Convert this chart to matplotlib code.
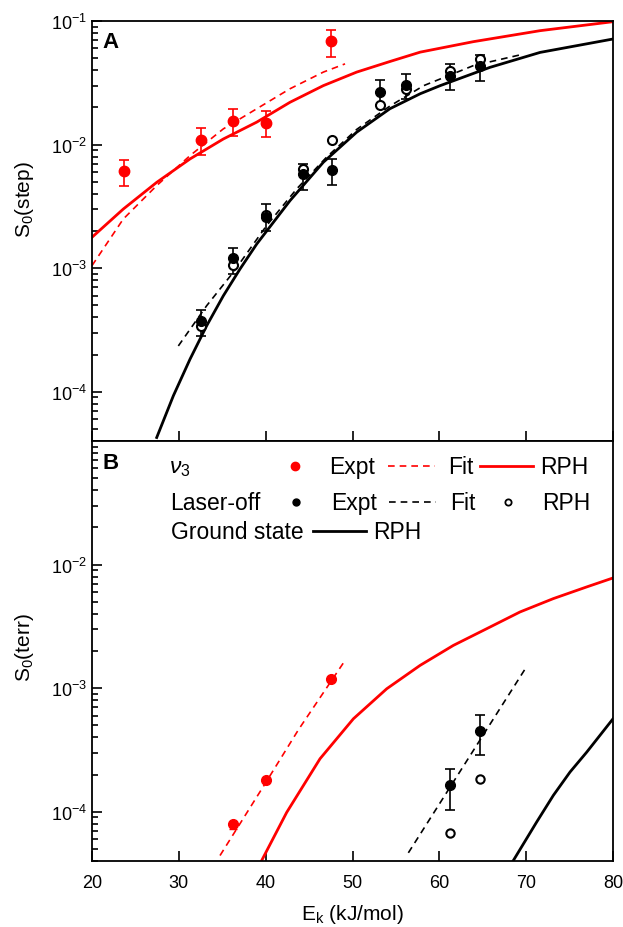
import numpy as np
import matplotlib
matplotlib.use("Agg")
import matplotlib.pyplot as plt
from matplotlib.ticker import LogLocator, NullFormatter

plt.rcParams['font.family'] = ['Liberation Sans', 'DejaVu Sans']
plt.rcParams['mathtext.fontset'] = 'custom'
plt.rcParams['mathtext.rm'] = 'Liberation Sans'
plt.rcParams['mathtext.it'] = 'Liberation Sans:italic'
plt.rcParams['mathtext.bf'] = 'Liberation Sans:bold'

# ---------------- Panel A : S0(step) ----------------
# nu3 experiment (red)
a_red_E = [23.7, 32.55, 36.2, 40.0, 47.57]
a_red_S = [6.1e-3, 1.09e-2, 1.55e-2, 1.50e-2, 6.84e-2]
a_red_lo = [4.6e-3, 8.26e-3, 1.18e-2, 1.15e-2, 5.14e-2]
a_red_hi = [7.5e-3, 1.35e-2, 1.93e-2, 1.87e-2, 8.4e-2]

# nu3 fit (red dashed)
a_redfit_E = [20.0, 23.6, 27.45, 31.29, 35.12, 38.97, 42.8, 46.64, 49.14]
a_redfit_S = [1.05e-3, 2.5e-3, 4.66e-3, 8.15e-3, 1.34e-2, 1.95e-2, 2.83e-2, 3.86e-2, 4.5e-2]

# nu3 RPH (red solid)
a_redrph_E = [20.0, 23.6, 27.45, 31.29, 35.12, 38.97, 42.8, 46.64, 50.48, 54.3,
              57.8, 63.9, 71.6, 80.0]
a_redrph_S = [1.78e-3, 3.01e-3, 4.95e-3, 7.66e-3, 1.11e-2, 1.52e-2, 2.2e-2, 3.0e-2,
              3.86e-2, 4.7e-2, 5.6e-2, 6.8e-2, 8.35e-2, 0.0987]

# laser-off experiment (black filled)
a_off_E = [32.55, 36.2, 40.0, 44.3, 47.6, 53.2, 56.2, 61.2, 64.7]
a_off_S = [3.74e-4, 1.2e-3, 2.6e-3, 5.8e-3, 6.28e-3, 2.68e-2, 3.04e-2, 3.6e-2, 4.35e-2]
a_off_lo = [2.83e-4, 8.9e-4, 2.0e-3, 4.3e-3, 4.7e-3, 2.1e-2, 2.34e-2, 2.78e-2, 3.27e-2]
a_off_hi = [4.57e-4, 1.47e-3, 3.3e-3, 7.0e-3, 7.7e-3, 3.34e-2, 3.73e-2, 4.49e-2, 5.31e-2]

# laser-off RPH (open circles)
a_offrph_E = [32.55, 36.2, 40.0, 44.3, 47.6, 53.2, 56.2, 61.2, 64.7]
a_offrph_S = [3.41e-4, 1.06e-3, 2.69e-3, 6.35e-3, 1.09e-2, 2.09e-2, 2.82e-2, 3.96e-2, 4.92e-2]

# laser-off fit (black dashed)
a_offfit_E = [29.94, 33.2, 36.27, 40.1, 43.57, 47.0, 50.5, 54.3, 58.2, 63.9, 69.7]
a_offfit_S = [2.35e-4, 4.97e-4, 9.27e-4, 2.21e-3, 4.38e-3, 7.9e-3, 1.33e-2, 2.05e-2,
              3.0e-2, 4.35e-2, 5.4e-2]

# ground state RPH (black solid)
a_gs_E = [27.45, 29.37, 31.29, 33.2, 35.12, 37.05, 38.97, 42.8, 46.64, 50.48, 54.3,
          57.8, 60.1, 65.8, 71.6, 80.0]
a_gs_S = [4.27e-5, 9.3e-5, 1.84e-4, 3.42e-4, 5.98e-4, 9.87e-4, 1.57e-3, 3.52e-3,
          7.2e-3, 1.26e-2, 1.95e-2, 2.58e-2, 3.0e-2, 4.21e-2, 5.57e-2, 7.15e-2]

# ---------------- Panel B : S0(terr) ----------------
b_red_E = [36.2, 40.0, 47.52]
b_red_S = [7.9e-5, 1.82e-4, 1.19e-3]
b_red_lo = [7.2e-5, 1.75e-4, 1.15e-3]
b_red_hi = [8.3e-5, 1.88e-4, 1.23e-3]

b_redfit_E = [34.74, 40.0, 43.76, 49.02]
b_redfit_S = [4.43e-5, 1.72e-4, 4.6e-4, 1.63e-3]

b_redrph_E = [39.54, 42.42, 46.26, 50.1, 53.94, 57.78, 61.61, 65.45, 69.29, 73.13,
              76.97, 80.0]
b_redrph_S = [4.04e-5, 9.9e-5, 2.69e-4, 5.66e-4, 9.9e-4, 1.53e-3, 2.22e-3, 3.03e-3,
              4.14e-3, 5.31e-3, 6.6e-3, 7.8e-3]

b_off_E = [61.23, 64.72]
b_off_S = [1.66e-4, 4.5e-4]
b_off_lo = [1.04e-4, 2.86e-4]
b_off_hi = [2.23e-4, 6.1e-4]

b_offrph_E = [61.23, 64.72]
b_offrph_S = [6.8e-5, 1.85e-4]

b_offfit_E = [56.43, 70.06]
b_offfit_S = [4.66e-5, 1.5e-3]

b_gs_E = [68.52, 71.2, 73.13, 75.05, 76.97, 80.0]
b_gs_S = [4.04e-5, 8.26e-5, 1.36e-4, 2.1e-4, 3.04e-4, 5.66e-4]

x_ticks = [20, 30, 40, 50, 60, 70, 80]

RED = '#ff0000'


def yerr(s, lo, hi):
    s = np.array(s)
    return [s - np.array(lo), np.array(hi) - s]


def style_axis(ax):
    ax.set_yscale('log')
    ax.set_xlim(20, 80)
    ax.set_ylim(4e-5, 0.1)
    ax.set_xticks(x_ticks)
    ax.yaxis.set_major_locator(LogLocator(base=10, numticks=10))
    ax.yaxis.set_minor_locator(LogLocator(base=10, subs=np.arange(2, 10), numticks=20))
    ax.yaxis.set_minor_formatter(NullFormatter())
    ax.tick_params(which='both', direction='in', top=False, right=False,
                   labelsize=13, width=1.2)
    ax.tick_params(which='major', length=7)
    ax.tick_params(which='minor', length=4)
    ax.tick_params(axis='x', pad=9)
    for sp in ax.spines.values():
        sp.set_linewidth(1.3)


fig = plt.figure(figsize=(6.23, 9.28), dpi=100)
axA = fig.add_axes([0.1477, 0.5237, 0.8363, 0.4526])
axB = fig.add_axes([0.1477, 0.0711, 0.8363, 0.4526], sharex=axA)

# ---- panel A
axA.plot(a_redfit_E, a_redfit_S, color=RED, lw=1.2, ls=(0, (4, 3)))
axA.plot(a_redrph_E, a_redrph_S, color=RED, lw=2.0)
axA.plot(a_offfit_E, a_offfit_S, color='black', lw=1.2, ls=(0, (4, 3)))
axA.plot(a_gs_E, a_gs_S, color='black', lw=2.0)
axA.errorbar(a_red_E, a_red_S, yerr=yerr(a_red_S, a_red_lo, a_red_hi), fmt='o',
             color=RED, ms=7.5, capsize=3.5, elinewidth=1.2, capthick=1.2)
axA.errorbar(a_off_E, a_off_S, yerr=yerr(a_off_S, a_off_lo, a_off_hi), fmt='o',
             color='black', ms=7, capsize=3.5, elinewidth=1.2, capthick=1.2)
axA.plot(a_offrph_E, a_offrph_S, 'o', ms=6.5, mfc='white', mec='black', mew=1.5)
style_axis(axA)
axA.tick_params(labelbottom=False)
axA.set_ylabel('S$_0$(step)', fontsize=15)
axA.yaxis.set_label_coords(-0.107, 0.576)
axA.text(0.02, 0.975, 'A', transform=axA.transAxes, fontsize=16,
         fontweight='bold', va='top', ha='left')

# ---- panel B
axB.plot(b_redfit_E, b_redfit_S, color=RED, lw=1.2, ls=(0, (4, 3)))
axB.plot(b_redrph_E, b_redrph_S, color=RED, lw=2.0)
axB.plot(b_offfit_E, b_offfit_S, color='black', lw=1.2, ls=(0, (4, 3)))
axB.plot(b_gs_E, b_gs_S, color='black', lw=2.0)
axB.errorbar(b_red_E, b_red_S, yerr=yerr(b_red_S, b_red_lo, b_red_hi), fmt='o',
             color=RED, ms=7, capsize=3, elinewidth=1.0, capthick=1.0)
axB.errorbar(b_off_E, b_off_S, yerr=yerr(b_off_S, b_off_lo, b_off_hi), fmt='o',
             color='black', ms=7, capsize=3.5, elinewidth=1.2, capthick=1.2)
axB.plot(b_offrph_E, b_offrph_S, 'o', ms=6, mfc='white', mec='black', mew=1.5)
style_axis(axB)
axB.set_yticks([1e-4, 1e-3, 1e-2])
axB.set_ylabel('S$_0$(terr)', fontsize=15)
axB.yaxis.set_label_coords(-0.107, 0.51)
axB.set_xlabel(r'E$_\mathrm{k}$ (kJ/mol)', fontsize=15, labelpad=8)
axB.text(0.02, 0.975, 'B', transform=axB.transAxes, fontsize=16,
         fontweight='bold', va='top', ha='left')

# ---- legend table in panel B
tr = axB.transAxes
fs = 16.5
r1, r2, r3 = 0.940, 0.854, 0.785
axB.text(0.148, r1, r'$\nu_3$', transform=tr, fontsize=fs, va='center')
axB.plot([0.390], [r1], 'o', color=RED, ms=6, transform=tr)
axB.text(0.455, r1, 'Expt', transform=tr, fontsize=fs, va='center')
axB.plot([0.568, 0.658], [r1, r1], color=RED, lw=1.2, ls=(0, (4, 3)), transform=tr)
axB.text(0.683, r1, 'Fit', transform=tr, fontsize=fs, va='center')
axB.plot([0.745, 0.846], [r1, r1], color=RED, lw=2.0, transform=tr)
axB.text(0.860, r1, 'RPH', transform=tr, fontsize=fs, va='center')

axB.text(0.150, r2, 'Laser-off', transform=tr, fontsize=fs, va='center')
axB.plot([0.392], [r2], 'o', color='black', ms=5, transform=tr)
axB.text(0.459, r2, 'Expt', transform=tr, fontsize=fs, va='center')
axB.plot([0.570, 0.660], [r2, r2], color='black', lw=1.2, ls=(0, (4, 3)), transform=tr)
axB.text(0.687, r2, 'Fit', transform=tr, fontsize=fs, va='center')
axB.plot([0.798], [r2], 'o', ms=4.5, mfc='white', mec='black', mew=1.3, transform=tr)
axB.text(0.864, r2, 'RPH', transform=tr, fontsize=fs, va='center')

axB.text(0.152, r3, 'Ground state', transform=tr, fontsize=fs, va='center')
axB.plot([0.424, 0.526], [r3, r3], color='black', lw=2.0, transform=tr)
axB.text(0.539, r3, 'RPH', transform=tr, fontsize=fs, va='center')

fig.savefig('out.png', dpi=100)
